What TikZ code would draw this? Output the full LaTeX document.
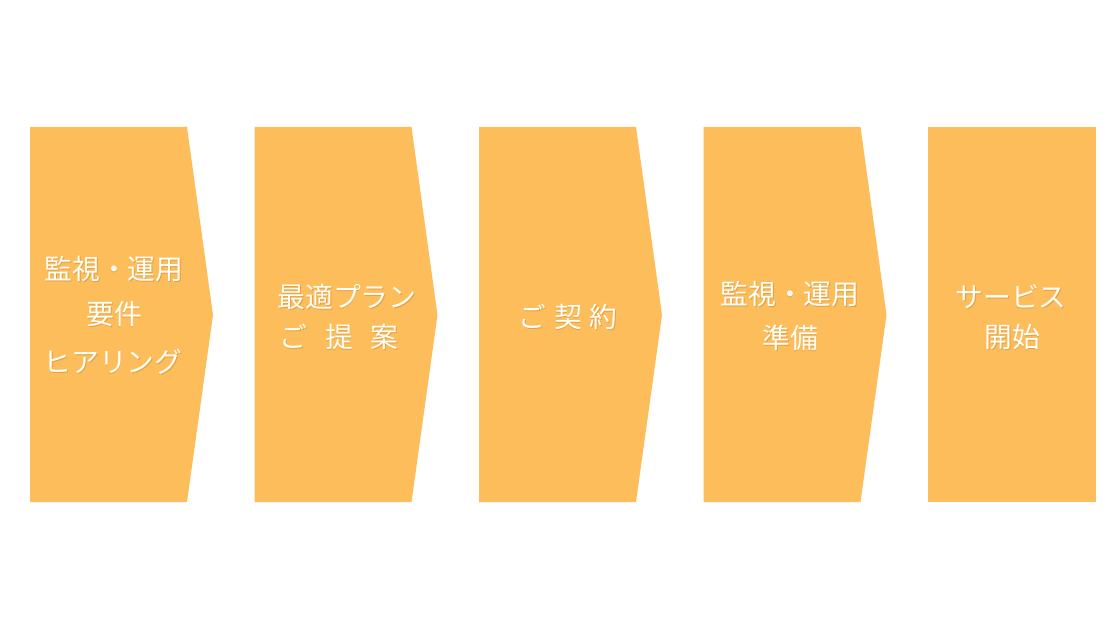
\documentclass[tikz,border=0pt]{standalone}
\usepackage{fontspec}
\setmainfont{Noto Sans CJK JP}
\definecolor{chev}{RGB}{252,189,90}
\definecolor{shcol}{RGB}{226,160,72}
\newcommand\shdtext[1]{\leavevmode\rlap{\hspace{0.8pt}\raisebox{-1pt}{\textcolor{shcol}{#1}}}#1}
\tikzset{
  chevfill/.style={fill=chev, draw=none},
  lbl/.style={text=white!97!yellow, inner sep=0pt, anchor=center, font=\fontsize{27.8}{30}\selectfont}
}
\begin{document}
\begin{tikzpicture}[x=1pt,y=-1pt]
\useasboundingbox (0,0) rectangle (1120,620);
\fill[white] (0,0) rectangle (1120,620);
% chevrons
\foreach \dx in {0,224.5,449,673.5}{
  \path[chevfill] (30+\dx,127) -- (187+\dx,127) -- (213+\dx,315) -- (187+\dx,502) -- (30+\dx,502) -- cycle;
}
\path[chevfill] (928,127) rectangle (1096,502);
% texts
\node[lbl] (a1) at (114,270) {\shdtext{監視・運用}};
\node[lbl] (a2) at (114,315) {\shdtext{要件}};
\node[lbl] (a3) at (113,362) {\shdtext{ヒアリング}};
\node[lbl] (b1) at (347,297) {\shdtext{最適プラン}};
\node[lbl] (b2) at (339,337) {\shdtext{ご\hspace{18pt}提\hspace{18pt}案}};
\node[lbl] (c1) at (568,317) {\shdtext{ご\hspace{8pt}契\hspace{8pt}約}};
\node[lbl] (d1) at (790,295) {\shdtext{監視・運用}};
\node[lbl] (d2) at (790,338) {\shdtext{準備}};
\node[lbl] (e1) at (1011,297) {\shdtext{サービス}};
\node[lbl] (e2) at (1012,337) {\shdtext{開始}};
\end{tikzpicture}
\end{document}
